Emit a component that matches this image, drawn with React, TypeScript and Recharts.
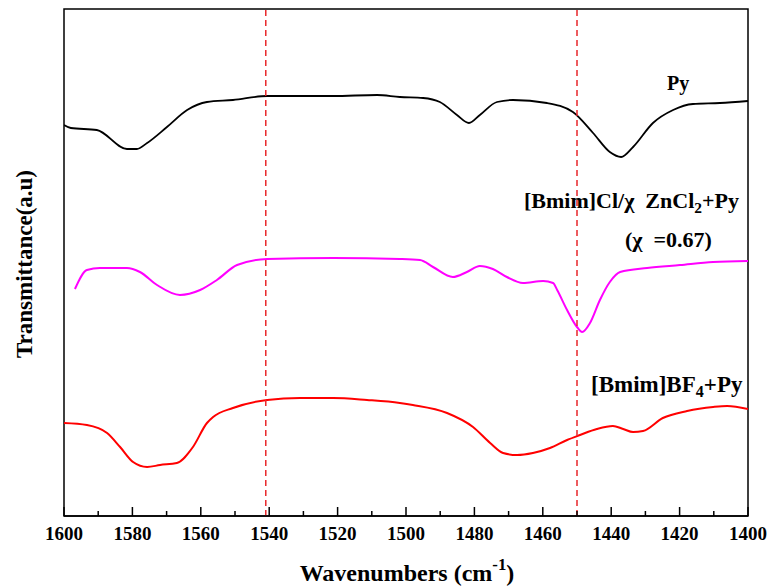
import React from 'react';
import { LineChart, Line, XAxis, YAxis, ReferenceLine, ReferenceArea } from 'recharts';

// Py
const pyWave = [1600, 1598, 1590.4, 1581.6, 1578.7, 1575.7, 1569.9, 1564.0, 1558.2, 1550.6, 1540.6, 1521.3, 1508.5, 1501.8, 1495.0, 1490.1, 1485.1, 1481.6, 1478.4, 1473.4, 1468.7, 1458.8, 1451.2, 1445.3, 1440.4, 1437.1, 1433.6, 1427.8, 1421.9, 1416.1, 1408.2, 1400];
const pyT = [391, 388, 386, 367, 367, 373, 389, 406, 414, 416, 420, 420, 421, 419, 418, 414, 401, 393, 401, 414, 416, 413, 404, 383, 364, 359, 369, 393, 406, 412, 413, 415];

// [Bmim]Cl/xZnCl2 + Py
const znWave = [1596.8, 1593.3, 1589.5, 1581.6, 1577.8, 1572.8, 1566.1, 1560.2, 1555.3, 1549.4, 1540.6, 1521.3, 1501.8, 1495.9, 1492.1, 1486.3, 1482.2, 1478.4, 1474.6, 1470.5, 1465.8, 1459.9, 1457.0, 1455.8, 1452.9, 1450.0, 1448.5, 1446.2, 1443.3, 1440.4, 1437.4, 1429.5, 1419.9, 1410.2, 1400];
const znT = [227, 246, 248, 248, 244, 231, 221, 226, 236, 251, 257, 258, 257, 256, 249, 239, 244, 250, 247, 239, 233, 235, 233, 226, 206, 189, 184, 193, 216, 234, 244, 248, 251, 254, 255];

// [Bmim]BF4 + Py
const bfWave = [1600, 1593.3, 1587.4, 1583.6, 1579.8, 1575.7, 1571.9, 1567.0, 1562.3, 1558.2, 1556.4, 1550.6, 1540.6, 1531.0, 1521.3, 1511.4, 1501.8, 1498.0, 1488.0, 1480.4, 1475.4, 1471.6, 1467.5, 1462.9, 1457.9, 1452.9, 1449.1, 1444.2, 1439.5, 1436.5, 1433.6, 1430.7, 1424.9, 1417.8, 1410.2, 1406.1, 1400];
const bfT = [93, 91, 83, 69, 54, 49, 51, 53, 69, 93, 99, 108, 116, 118, 118, 116, 113, 111, 103, 89, 73, 63, 61, 63, 68, 76, 81, 87, 90, 87, 84, 85, 98, 105, 109, 110, 107];

const xTicks = [1400, 1410, 1420, 1430, 1440, 1450, 1460, 1470, 1480, 1490, 1500, 1510, 1520, 1530, 1540, 1550, 1560, 1570, 1580, 1590, 1600];
const markLines = [1541, 1450];

const toRows = (w: number[], t: number[]) => w.map((x, i) => ({ x, y: t[i] }));
const pyData = toRows(pyWave, pyT);
const znData = toRows(znWave, znT);
const bfData = toRows(bfWave, bfT);

const FONT = "'Liberation Serif', 'DejaVu Serif', 'Times New Roman', serif";

const Tick = ({ x, y, payload }: any) => {
  const major = payload.value % 20 === 0;
  return (
    <g>
      <line x1={x} y1={y} x2={x} y2={y - (major ? 9 : 5)} stroke="#000" strokeWidth={1.5} />
      {major && (
        <text x={x} y={y + 24} textAnchor="middle" style={{ fontFamily: FONT, fontWeight: 'bold', fontSize: 19 }} fill="#000">
          {payload.value}
        </text>
      )}
    </g>
  );
};

const Label = ({ x, baseline, size, children }: any) => (
  <div
    style={{
      position: 'absolute',
      left: x,
      top: baseline - 0.84 * size,
      fontSize: size,
      lineHeight: 1,
      fontFamily: FONT,
      fontWeight: 'bold',
      whiteSpace: 'nowrap',
      color: '#000'
    }}
  >
    {children}
  </div>
);

const sub = { fontSize: '0.7em', verticalAlign: '-0.3em' };
const sup = { fontSize: '0.7em', verticalAlign: '0.65em' };

export default function App() {
  return (
    <div style={{ position: 'absolute', left: 0, top: 0, width: 769, height: 586, background: '#fff', fontFamily: FONT }}>
      <LineChart width={769} height={586} margin={{ top: 9, right: 21, bottom: 40, left: 64 }}>
        <XAxis
          dataKey="x"
          type="number"
          domain={[1400, 1600]}
          reversed
          ticks={xTicks}
          interval={0}
          tickSize={0}
          tickMargin={0}
          tick={<Tick />}
          axisLine={{ stroke: '#000', strokeWidth: 1.5 }}
          height={30}
          allowDataOverflow
        />
        <YAxis hide type="number" domain={[0, 507]} allowDataOverflow />
        <ReferenceArea x1={1600} x2={1400} y1={0} y2={507} fill="none" stroke="#000" strokeWidth={1.5} />
        <Line data={pyData} dataKey="y" type="monotone" stroke="#000" strokeWidth={1.8} dot={false} isAnimationActive={false} />
        <Line data={znData} dataKey="y" type="monotone" stroke="#ff00ff" strokeWidth={2} dot={false} isAnimationActive={false} />
        <Line data={bfData} dataKey="y" type="monotone" stroke="#ff0000" strokeWidth={2} dot={false} isAnimationActive={false} />
        {markLines.map((m) => (
          <ReferenceLine key={m} x={m} stroke="#e8262a" strokeWidth={1.5} strokeDasharray="6 4" />
        ))}
      </LineChart>

      <div
        style={{
          position: 'absolute',
          left: 24,
          top: 264,
          transform: 'translate(-50%, -50%) rotate(-90deg)',
          fontFamily: FONT,
          fontWeight: 'bold',
          fontSize: 23,
          whiteSpace: 'nowrap',
          lineHeight: 1
        }}
      >
        Transmittance(a.u)
      </div>
      <div
        style={{
          position: 'absolute',
          left: 407,
          top: 577 - 0.84 * 24,
          transform: 'translateX(-50%)',
          fontFamily: FONT,
          fontWeight: 'bold',
          fontSize: 24,
          whiteSpace: 'nowrap',
          lineHeight: 1
        }}
      >
        Wavenumbers (cm<span style={sup}>-1</span>)
      </div>

      <Label x={667} baseline={90} size={20}>Py</Label>
      <Label x={524} baseline={208} size={22}>
        [Bmim]Cl/χ&nbsp;&nbsp;ZnCl<span style={sub}>2</span>+Py
      </Label>
      <Label x={625} baseline={247} size={22}>(χ&nbsp;&nbsp;=0.67)</Label>
      <Label x={591} baseline={392} size={23}>
        [Bmim]BF<span style={sub}>4</span>+Py
      </Label>
    </div>
  );
}
